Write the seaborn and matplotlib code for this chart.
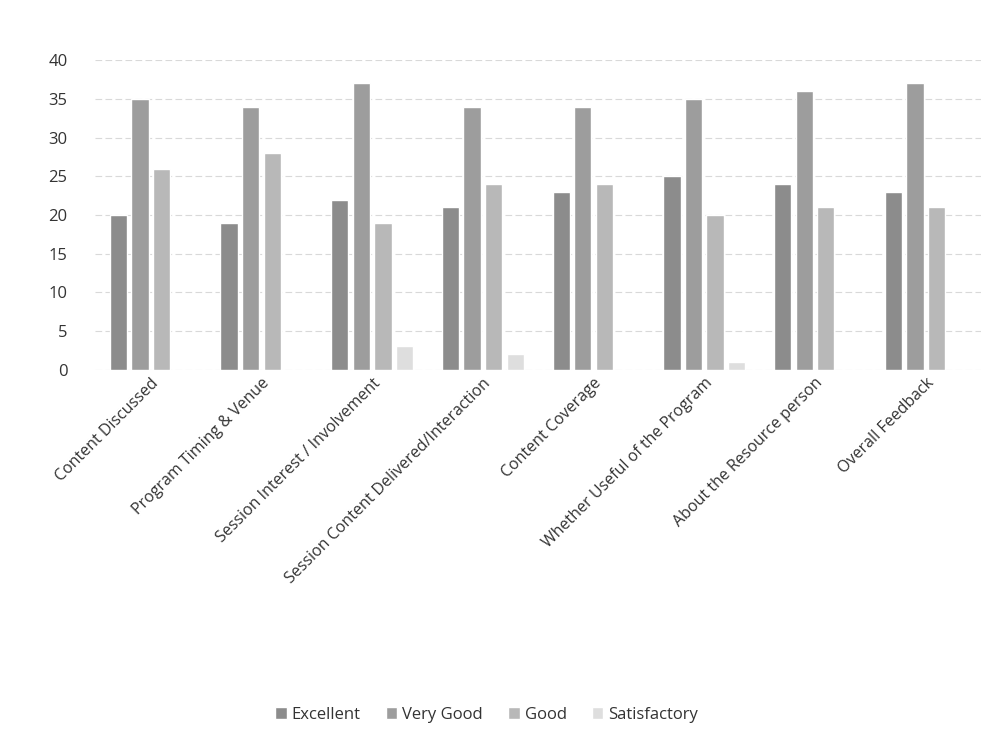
import seaborn as sns
import pandas as pd
import matplotlib.pyplot as plt

categories = ["Content Discussed", "Program Timing & Venue", "Session Interest / Involvement",
              "Session Content Delivered/Interaction", "Content Coverage",
              "Whether Useful of the Program", "About the Resource person", "Overall Feedback"]
ratings = ["Excellent", "Very Good", "Good", "Satisfactory"]
excellent = [20, 19, 22, 21, 23, 25, 24, 23]
very_good = [35, 34, 37, 34, 34, 35, 36, 37]
good = [26, 28, 19, 24, 24, 20, 21, 21]
satisfactory = [0, 0, 3, 2, 0, 1, 0, 0]

rows = []
for rating, vals in zip(ratings, [excellent, very_good, good, satisfactory]):
    for cat, v in zip(categories, vals):
        rows.append({"category": cat, "rating": rating, "count": v})
df = pd.DataFrame(rows)

sns.set_style("white")
plt.rcParams['font.family'] = ['Open Sans', 'DejaVu Sans']

colors = ["#8c8c8c", "#9d9d9d", "#b8b8b8", "#dedede"]

fig = plt.figure(figsize=(9.93, 7.35), dpi=100)
ax = fig.add_axes([0.096, 0.497, 0.892, 0.421])

sns.barplot(data=df, x="category", y="count", hue="rating", hue_order=ratings,
            palette=colors, width=0.78, gap=0.2, ax=ax, legend=True)

ax.set_ylim(0, 40)
ax.set_yticks(range(0, 41, 5))
ax.yaxis.grid(True, color="#d9d9d9", linestyle=(0, (6, 3)), linewidth=0.8)
ax.set_axisbelow(True)
for s in ax.spines.values():
    s.set_visible(False)
ax.set_xlabel("")
ax.set_ylabel("")
ax.tick_params(axis="y", labelsize=12, colors="#333333", length=0, pad=20)
ax.tick_params(axis="x", labelsize=11.5, colors="#333333", length=0, pad=4)
plt.setp(ax.get_xticklabels(), rotation=45, ha="right", rotation_mode="anchor")

handles, labels = ax.get_legend_handles_labels()
ax.get_legend().remove()
fig.legend(handles, labels, loc="center", bbox_to_anchor=(0.49, 0.027), ncol=4, frameon=False,
           fontsize=12, handlelength=0.7, handleheight=0.7, columnspacing=1.5,
           handletextpad=0.3, labelcolor="#333333")

fig.savefig("out.png", dpi=100)
